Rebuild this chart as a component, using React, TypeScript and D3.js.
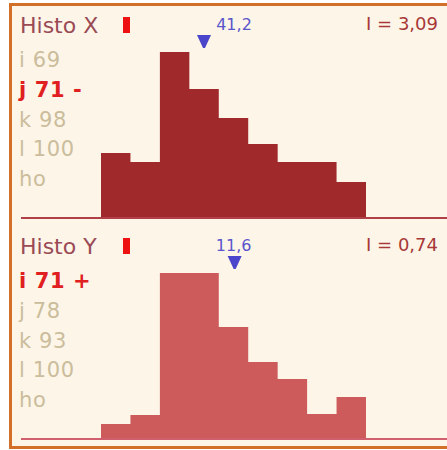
import React from "react";
import * as d3 from "d3";

// ---- data ----
const binCount = 9;
const histoXCounts = [65, 56, 166, 129, 100, 74, 56, 56, 36];
const histoYCounts = [15, 24, 166, 166, 112, 77, 60, 25, 42];
const histoXItems = ["i 69", "j 71 -", "k 98", "l 100", "ho"];
const histoYItems = ["i 71 +", "j 78", "k 93", "l 100", "ho"];
const histoXActive = 1;
const histoYActive = 0;
const histoXMean = 41.2;
const histoYMean = 11.6;
const histoXRange = [0, 106];
const histoYRange = [0, 23];
const histoXStat = "I = 3,09";
const histoYStat = "I = 0,74";
const histoXTitle = "Histo X";
const histoYTitle = "Histo Y";

const W = 447;
const H = 450;
const FONT = "'DejaVu Sans', Verdana, sans-serif";

type PanelProps = {
  dy: number;
  title: string;
  counts: number[];
  items: string[];
  active: number;
  mean: number;
  range: number[];
  stat: string;
  barColor: string;
  lineColor: string;
  labelDx: number;
};

function fmt(v: number) {
  return d3.format(".1f")(v).replace(".", ",");
}

function Panel(p: PanelProps) {
  const x = d3.scaleLinear().domain([0, binCount]).range([101, 366]);
  const y = d3.scaleLinear().domain([0, 166]).range([218, 52]);
  const xm = d3.scaleLinear().domain(p.range).range([101, 366]);
  const mx = xm(p.mean);
  const tri = d3.path();
  tri.moveTo(mx - 7, 35);
  tri.lineTo(mx + 7, 35);
  tri.lineTo(mx + 1, 48);
  tri.lineTo(mx - 1, 48);
  tri.closePath();
  const pts: [number, number][] = p.counts.map((c, i) => [i, c]);
  pts.push([binCount, p.counts[p.counts.length - 1]]);
  const area = d3
    .area<[number, number]>()
    .x((d) => x(d[0]))
    .y0(y(0))
    .y1((d) => y(d[1]))
    .curve(d3.curveStepAfter);
  return (
    <g transform={`translate(0,${p.dy})`}>
      <text x={20} y={33} fontSize={22} fill="#9a4a55" fontFamily={FONT}>
        {p.title}
      </text>
      <rect x={123} y={17} width={7} height={16} fill="#ee1111" />
      <text x={438} y={30} fontSize={18} fill="#a83838" fontFamily={FONT} textAnchor="end">
        {p.stat}
      </text>
      <text x={mx + p.labelDx} y={30} fontSize={16} fill="#5a55cc" fontFamily={FONT} textAnchor="middle">
        {fmt(p.mean)}
      </text>
      <path d={tri.toString()} fill="#4b45cc" />
      {p.items.map((t, i) => (
        <text
          key={i}
          x={19}
          y={67 + i * 29.8}
          fontSize={21}
          letterSpacing={0.6}
          fontFamily={FONT}
          fill={i === p.active ? "#e02020" : "#cbbd9c"}
          fontWeight={i === p.active ? "bold" : "normal"}
        >
          {t}
        </text>
      ))}
      <path d={area(pts) || ""} fill={p.barColor} />
      <line x1={21} x2={W} y1={218} y2={218} stroke={p.lineColor} strokeWidth={2} />
    </g>
  );
}

export default function App() {
  return (
    <svg
      width={W}
      height={H}
      style={{ position: "absolute", left: 0, top: 0, background: "#ffffff" }}
    >
      <rect x={10.5} y={4.5} width={470} height={443} fill="#fdf5e8" stroke="#d2702a" strokeWidth={3} />
      <Panel
        dy={0}
        title={histoXTitle}
        counts={histoXCounts}
        items={histoXItems}
        active={histoXActive}
        mean={histoXMean}
        range={histoXRange}
        stat={histoXStat}
        barColor="#a0292b"
        lineColor="#b04048"
        labelDx={30}
      />
      <Panel
        dy={221}
        title={histoYTitle}
        counts={histoYCounts}
        items={histoYItems}
        active={histoYActive}
        mean={histoYMean}
        range={histoYRange}
        stat={histoYStat}
        barColor="#cd5b5b"
        lineColor="#d06070"
        labelDx={-1}
      />
    </svg>
  );
}
